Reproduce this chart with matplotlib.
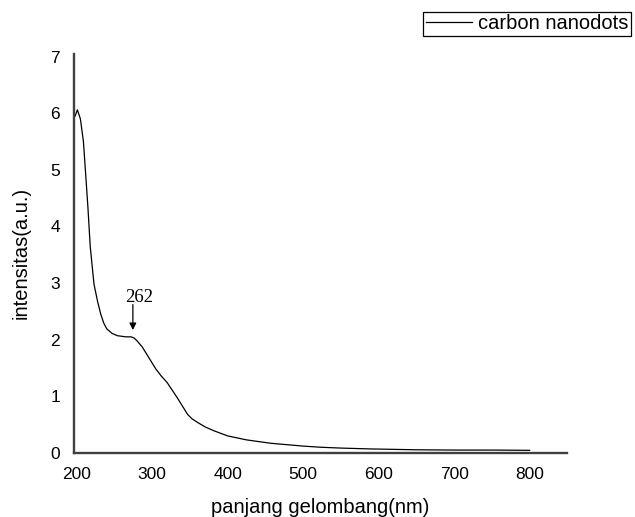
import numpy as np
import matplotlib
matplotlib.use("Agg")
import matplotlib.pyplot as plt

# UV-Vis absorbance spectrum of carbon nanodots
wavelength = [198, 201, 205, 209, 212, 215, 218, 223, 228, 232, 236, 240, 247, 254,
              265, 272, 276, 280, 287, 293, 299, 305, 312, 320, 326, 333, 340, 347,
              353, 360, 370, 382, 400, 425, 457, 500, 523, 550, 589, 650, 700, 750, 800]
intensity = [5.95, 6.06, 5.90, 5.50, 4.92, 4.33, 3.65, 2.98, 2.66, 2.45, 2.29, 2.19, 2.11, 2.07,
             2.05, 2.05, 2.03, 1.98, 1.87, 1.74, 1.61, 1.48, 1.36, 1.24, 1.12, 0.98, 0.83, 0.68,
             0.60, 0.54, 0.46, 0.39, 0.30, 0.23, 0.17, 0.12, 0.10, 0.085, 0.07, 0.055, 0.05, 0.05, 0.045]

peak_label = "262"
peak_xy = (274.5, 2.17)
peak_text = (283, 2.75)

xticks = [200, 300, 400, 500, 600, 700, 800]
yticks = [0, 1, 2, 3, 4, 5, 6, 7]

plt.rcParams['font.family'] = ['Liberation Sans', 'DejaVu Sans']

fig = plt.figure(figsize=(6.35, 5.17), dpi=100)
ax = fig.add_axes([0.1165, 0.124, 0.777, 0.772])

ax.plot(wavelength, intensity, color='black', lw=0.9, label='carbon nanodots')

ax.annotate('', xy=peak_xy, xytext=(peak_xy[0], 2.62),
            arrowprops=dict(arrowstyle='-|>', color='black', lw=0.9,
                            mutation_scale=10, shrinkA=0, shrinkB=0))
ax.text(peak_text[0], peak_text[1], peak_label, ha='center', va='center',
        fontsize=13.5, family='Liberation Serif')

ax.set_xlim(196.5, 850)
ax.set_ylim(0, 7.05)
ax.set_xticks(xticks)
ax.set_yticks(yticks)
ax.tick_params(length=0, labelsize=12.5, colors='black')
ax.tick_params(axis='x', pad=10)
ax.tick_params(axis='y', pad=10)

for s in ['top', 'right']:
    ax.spines[s].set_visible(False)
for s in ['left', 'bottom']:
    ax.spines[s].set_color('#404040')
    ax.spines[s].set_linewidth(1.7)

ax.set_xlabel('panjang gelombang(nm)', fontsize=14.5, labelpad=12)
ax.set_ylabel('intensitas(a.u.)', fontsize=14.5, labelpad=14)

leg = fig.legend(loc='upper right', bbox_to_anchor=(631 / 635, 1 - 12 / 517),
                 borderaxespad=0, fancybox=False, edgecolor='black', framealpha=1,
                 fontsize=14.5, handlelength=2.3, handletextpad=0.3, borderpad=0.12)
leg.get_frame().set_linewidth(0.9)

fig.savefig('out.png', dpi=100)
